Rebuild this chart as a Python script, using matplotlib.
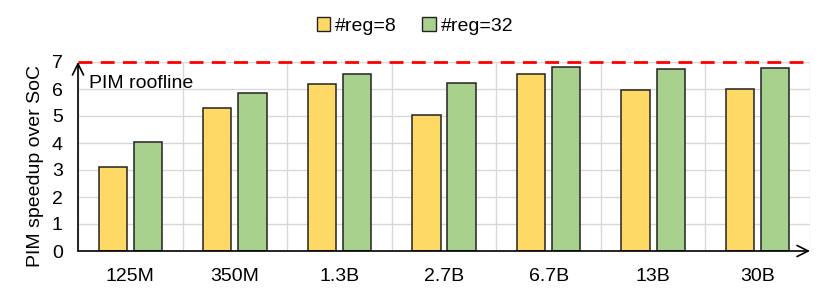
import matplotlib.pyplot as plt
import numpy as np
from matplotlib.patches import Patch

plt.rcParams["font.family"] = ["Liberation Sans", "DejaVu Sans"]

models = ["125M", "350M", "1.3B", "2.7B", "6.7B", "13B", "30B"]
reg8 = [3.10, 5.31, 6.17, 5.02, 6.57, 5.96, 6.01]
reg32 = [4.02, 5.85, 6.56, 6.22, 6.80, 6.73, 6.79]
roofline = 7

yellow = "#FFD966"
green = "#A9D18E"

fig = plt.figure(figsize=(8.3, 2.97), dpi=100)
ax = fig.add_axes([78 / 830, 1 - 251 / 297, 732 / 830, 189 / 297])

x = np.arange(len(models))
w = 0.27
off = 0.168
ax.bar(x - off, reg8, w, color=yellow, edgecolor="#222222", linewidth=1.1, zorder=3)
ax.bar(x + off, reg32, w, color=green, edgecolor="#222222", linewidth=1.1, zorder=3)

ax.set_xlim(-0.5, len(models) - 0.5)
ax.set_ylim(0, 7)
ax.set_xticks(x)
ax.set_xticklabels(models, fontsize=14)
ax.set_xticks(np.arange(len(models) + 1) - 0.5, minor=True)
ax.set_yticks(range(0, 8))
ax.tick_params(axis="y", labelsize=14, length=0, pad=11)
ax.tick_params(axis="x", which="both", length=0, pad=12)
ax.grid(True, axis="y", color="#D9D9D9", linewidth=1, zorder=0)
ax.grid(True, axis="x", which="minor", color="#D9D9D9", linewidth=1, zorder=0)
ax.set_axisbelow(True)
for s in ax.spines.values():
    s.set_visible(False)

ax.axhline(roofline, color="#FF0000", linestyle=(0, (5, 3)), linewidth=2, zorder=4, clip_on=False)
ax.text(0.015, 0.93, "PIM roofline", transform=ax.transAxes, fontsize=14, va="top", ha="left")

# axis arrows
ax.annotate("", xy=(0, 1.0), xytext=(0, 0), xycoords="axes fraction",
            arrowprops=dict(arrowstyle="->", color="black", lw=1.2, mutation_scale=20,
                            shrinkA=0, shrinkB=0), zorder=5)
ax.annotate("", xy=(1.0, 0), xytext=(0, 0), xycoords="axes fraction",
            arrowprops=dict(arrowstyle="->", color="black", lw=1.2, mutation_scale=20,
                            shrinkA=0, shrinkB=0), zorder=5)

ax.set_ylabel("PIM speedup over SoC", fontsize=14)
ax.yaxis.set_label_coords(-0.046, 0.45)

handles = [Patch(facecolor=yellow, edgecolor="#222222", linewidth=1.0),
           Patch(facecolor=green, edgecolor="#222222", linewidth=1.0)]
fig.legend(handles, ["#reg=8", "#reg=32"], loc="center", bbox_to_anchor=(0.5, 1 - 26 / 297),
           ncol=2, frameon=False, fontsize=14, handlelength=0.7, handleheight=0.7,
           handletextpad=0.25, columnspacing=1.3)

fig.savefig("out.png", dpi=100)
